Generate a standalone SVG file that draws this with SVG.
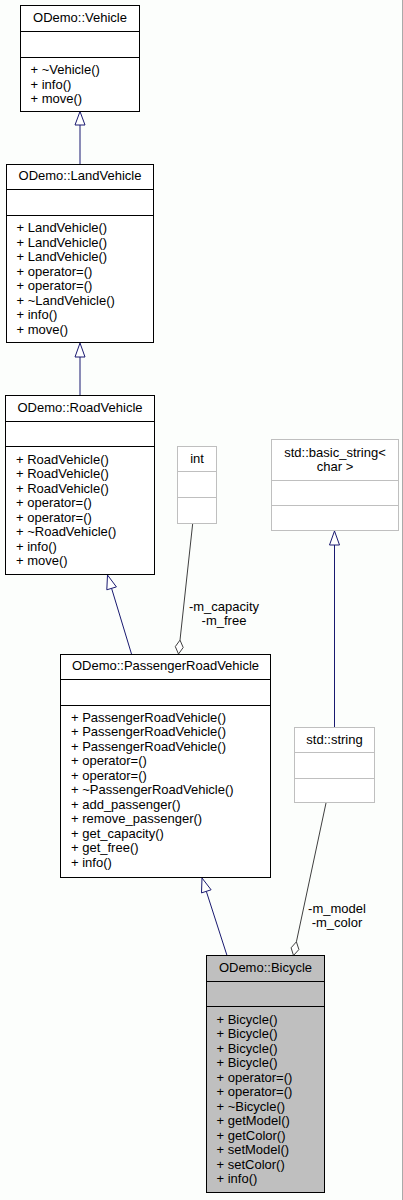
<svg xmlns="http://www.w3.org/2000/svg" width="403" height="1200" viewBox="0 0 403 1200">
<style>
text{font-family:"Liberation Sans",Arial,sans-serif;font-size:13px;fill:#000}
.t{text-anchor:middle}
.box{fill:#fff;stroke:#000;stroke-width:1}
.gbox{fill:#fff;stroke:#bfbfbf;stroke-width:1}
.sel{fill:#bfbfbf;stroke:#000;stroke-width:1}
.div{stroke:#000;stroke-width:1}
.gdiv{stroke:#bfbfbf;stroke-width:1}
.inh{stroke:#191970;stroke-width:1;fill:none}
.inhh{stroke:#191970;stroke-width:1;fill:#fff}
.agg{stroke:#404040;stroke-width:1;fill:none}
.aggh{stroke:#404040;stroke-width:1;fill:#fff}
</style>
<rect x="0" y="0" width="403" height="1200" fill="#fcfefc"/>
<line x1="402.5" y1="0" x2="402.5" y2="1200" stroke="#a9a9a9" stroke-width="1"/>

<g id="connectors">
  <line class="inh" x1="80" y1="164" x2="80" y2="125"/>
  <polygon class="inhh" points="80,111.5 75,125 85,125"/>
  <line class="inh" x1="80" y1="395" x2="80" y2="357"/>
  <polygon class="inhh" points="80,343 75,357 85,357"/>
  <line class="inh" x1="131.5" y1="654" x2="111.6" y2="588.4"/>
  <polygon class="inhh" points="107.5,575 106.8,589.8 116.4,586.9"/>
  <line class="inh" x1="227" y1="955.5" x2="206.3" y2="891.3"/>
  <polygon class="inhh" points="202,878 201.5,892.9 211.1,889.8"/>
  <line class="inh" x1="334.5" y1="727" x2="334.5" y2="545"/>
  <polygon class="inhh" points="334.5,531 329.5,545 339.5,545"/>
  <line class="agg" x1="192.7" y1="523.5" x2="180" y2="640.1"/>
  <polygon class="aggh" points="178.5,654 183.2,647.5 180,640.1 175.3,646.6"/>
  <text class="t" x="224" y="611">-m_capacity</text>
  <text class="t" x="224" y="625">-m_free</text>
  <line class="agg" x1="326" y1="803" x2="296.4" y2="941.8"/>
  <polygon class="aggh" points="293.5,955.5 298.9,949.5 296.4,941.8 291.1,947.8"/>
  <text class="t" x="337" y="912.5">-m_model</text>
  <text class="t" x="337" y="926.5">-m_color</text>
</g>

<g id="Vehicle">
  <rect class="box" x="20.5" y="5.5" width="119" height="106"/>
  <line class="div" x1="20.5" y1="31.5" x2="139.5" y2="31.5"/>
  <line class="div" x1="20.5" y1="57.5" x2="139.5" y2="57.5"/>
  <text class="t" x="80" y="22">ODemo::Vehicle</text>
  <text x="30.5" y="74">+ ~Vehicle()</text>
  <text x="30.5" y="88.5">+ info()</text>
  <text x="30.5" y="103">+ move()</text>
</g>

<g id="LandVehicle">
  <rect class="box" x="6.5" y="164.5" width="147" height="178"/>
  <line class="div" x1="6.5" y1="189.5" x2="153.5" y2="189.5"/>
  <line class="div" x1="6.5" y1="215.5" x2="153.5" y2="215.5"/>
  <text class="t" x="80" y="180">ODemo::LandVehicle</text>
  <text x="16.5" y="232">+ LandVehicle()</text>
  <text x="16.5" y="246.5">+ LandVehicle()</text>
  <text x="16.5" y="261">+ LandVehicle()</text>
  <text x="16.5" y="275.5">+ operator=()</text>
  <text x="16.5" y="290">+ operator=()</text>
  <text x="16.5" y="304.5">+ ~LandVehicle()</text>
  <text x="16.5" y="319">+ info()</text>
  <text x="16.5" y="333.5">+ move()</text>
</g>

<g id="RoadVehicle">
  <rect class="box" x="5.5" y="395.5" width="149" height="179"/>
  <line class="div" x1="5.5" y1="421.5" x2="154.5" y2="421.5"/>
  <line class="div" x1="5.5" y1="446.5" x2="154.5" y2="446.5"/>
  <text class="t" x="80" y="411.5">ODemo::RoadVehicle</text>
  <text x="16" y="463.5">+ RoadVehicle()</text>
  <text x="16" y="478">+ RoadVehicle()</text>
  <text x="16" y="492.5">+ RoadVehicle()</text>
  <text x="16" y="507">+ operator=()</text>
  <text x="16" y="521.5">+ operator=()</text>
  <text x="16" y="536">+ ~RoadVehicle()</text>
  <text x="16" y="550.5">+ info()</text>
  <text x="16" y="565">+ move()</text>
</g>

<g id="int">
  <rect class="gbox" x="177.5" y="446.5" width="39" height="77"/>
  <line class="gdiv" x1="177.5" y1="471.5" x2="216.5" y2="471.5"/>
  <line class="gdiv" x1="177.5" y1="497.5" x2="216.5" y2="497.5"/>
  <text class="t" x="197" y="462.5">int</text>
</g>

<g id="basic_string">
  <rect class="gbox" x="271.5" y="439.5" width="127" height="91"/>
  <line class="gdiv" x1="271.5" y1="480.5" x2="398.5" y2="480.5"/>
  <line class="gdiv" x1="271.5" y1="505.5" x2="398.5" y2="505.5"/>
  <text class="t" x="335" y="457">std::basic_string&lt;</text>
  <text class="t" x="335" y="471">char &gt;</text>
</g>

<g id="string">
  <rect class="gbox" x="294.5" y="727.5" width="80" height="75"/>
  <line class="gdiv" x1="294.5" y1="752.5" x2="374.5" y2="752.5"/>
  <line class="gdiv" x1="294.5" y1="778.5" x2="374.5" y2="778.5"/>
  <text class="t" x="334.5" y="743.5">std::string</text>
</g>

<g id="PassengerRoadVehicle">
  <rect class="box" x="60.5" y="654.5" width="210" height="223"/>
  <line class="div" x1="60.5" y1="679.5" x2="270.5" y2="679.5"/>
  <line class="div" x1="60.5" y1="705.5" x2="270.5" y2="705.5"/>
  <text class="t" x="165.5" y="670">ODemo::PassengerRoadVehicle</text>
  <text x="71" y="721.5">+ PassengerRoadVehicle()</text>
  <text x="71" y="736">+ PassengerRoadVehicle()</text>
  <text x="71" y="750.5">+ PassengerRoadVehicle()</text>
  <text x="71" y="765">+ operator=()</text>
  <text x="71" y="779.5">+ operator=()</text>
  <text x="71" y="794">+ ~PassengerRoadVehicle()</text>
  <text x="71" y="808.5">+ add_passenger()</text>
  <text x="71" y="823">+ remove_passenger()</text>
  <text x="71" y="837.5">+ get_capacity()</text>
  <text x="71" y="852">+ get_free()</text>
  <text x="71" y="866.5">+ info()</text>
</g>

<g id="Bicycle">
  <rect class="sel" x="206.5" y="955.5" width="118" height="237"/>
  <line class="div" x1="206.5" y1="981.5" x2="324.5" y2="981.5"/>
  <line class="div" x1="206.5" y1="1006.5" x2="324.5" y2="1006.5"/>
  <text class="t" x="265.5" y="971.5">ODemo::Bicycle</text>
  <text x="216.5" y="1023.5">+ Bicycle()</text>
  <text x="216.5" y="1038">+ Bicycle()</text>
  <text x="216.5" y="1052.5">+ Bicycle()</text>
  <text x="216.5" y="1067">+ Bicycle()</text>
  <text x="216.5" y="1081.5">+ operator=()</text>
  <text x="216.5" y="1096">+ operator=()</text>
  <text x="216.5" y="1110.5">+ ~Bicycle()</text>
  <text x="216.5" y="1125">+ getModel()</text>
  <text x="216.5" y="1139.5">+ getColor()</text>
  <text x="216.5" y="1154">+ setModel()</text>
  <text x="216.5" y="1168.5">+ setColor()</text>
  <text x="216.5" y="1183">+ info()</text>
</g>
</svg>
